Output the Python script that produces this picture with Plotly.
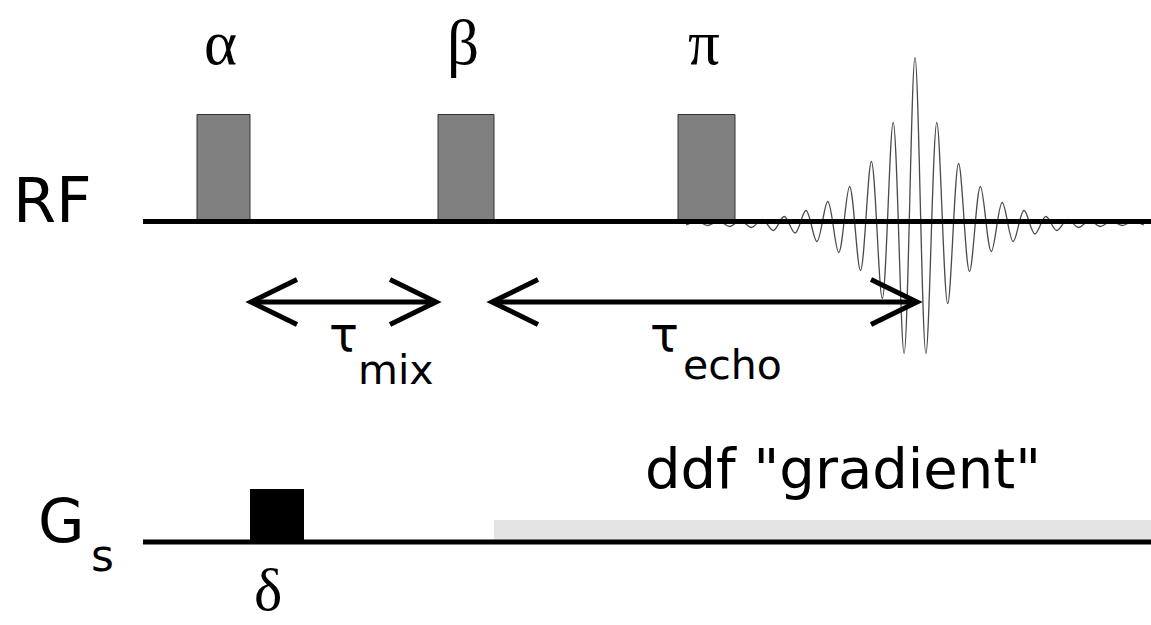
import plotly.graph_objects as go

# ---- sequence timing (time axis in arbitrary units, 0..1151) ----
rf_labels = ["α", "β", "π"]
rf_start = [197, 438, 678]
rf_end = [250, 494, 735]
rf_amp = 107

# echo: extrema read at successive half periods around the echo top
echo_center = 915
echo_half_period = 10.9
echo_left = [-3.5, 0, -4, 0.5, -5, 1, -6, 2, -9, 5, -11.5, 11, -20, 20, -31, 35,
             -49, 60, -77, 99, -132]
echo_right = [164, -132, 99, -82, 58, -50, 35, -30, 19, -20, 11, -12.5, 5, -9,
              2, -6, 1, -5, 0.5, -4, 0, -3.5]

# delay intervals (arrows)
tau_mix = (251, 436)
tau_echo = (492, 917)

# gradient channel
delta_start, delta_end, delta_amp = 250, 304, 53
ddf_start, ddf_end, ddf_amp = 494, 1151, 22

# ---- channel rows (vertical positions of baselines) ----
rf_base = 221.5
gs_base = 542
arrow_row = 302
line_start, line_end = 143, 1151

fig = go.Figure()

# echo signal
echo_amp = echo_left + echo_right
n_left = len(echo_left)
echo_t = [echo_center + (i - n_left) * echo_half_period for i in range(len(echo_amp))]
fig.add_trace(go.Scatter(
    x=echo_t, y=[rf_base - a for a in echo_amp], mode="lines",
    line=dict(color="#4a4a4a", width=1.3, shape="spline", smoothing=1.0),
    hoverinfo="skip", showlegend=False))

shapes = []
# RF pulses
for s, e in zip(rf_start, rf_end):
    shapes.append(dict(type="rect", x0=s, x1=e, y0=rf_base, y1=rf_base - rf_amp,
                       fillcolor="#808080", line=dict(color="#333333", width=1),
                       layer="above"))
# gradient pulses
shapes.append(dict(type="rect", x0=ddf_start, x1=ddf_end, y0=gs_base, y1=gs_base - ddf_amp,
                   fillcolor="#e4e4e4", line=dict(width=0), layer="above"))
shapes.append(dict(type="rect", x0=delta_start, x1=delta_end, y0=gs_base,
                   y1=gs_base - delta_amp, fillcolor="#000000", line=dict(width=0),
                   layer="above"))
# baselines
for yb in (rf_base, gs_base):
    shapes.append(dict(type="line", x0=line_start, x1=line_end, y0=yb, y1=yb,
                       line=dict(color="black", width=5), layer="above"))

# double-headed arrows with open chevron heads
head_len, head_half = 46, 22.5
for a, b in (tau_mix, tau_echo):
    shapes.append(dict(type="line", x0=a, x1=b, y0=arrow_row, y1=arrow_row,
                       line=dict(color="black", width=5), layer="above"))
    for tip, d in ((a, 1), (b, -1)):
        path = (f"M {tip + d * head_len},{arrow_row - head_half} L {tip},{arrow_row} "
                f"L {tip + d * head_len},{arrow_row + head_half}")
        shapes.append(dict(type="path", path=path, line=dict(color="black", width=5),
                           layer="above"))

ann = []


def label(text, x, y, size, family="DejaVu Sans"):
    ann.append(dict(text=text, x=x, y=y, xref="x", yref="y", showarrow=False,
                    xanchor="center", yanchor="middle",
                    font=dict(family=family, size=size, color="black")))


serif = "Liberation Serif"
for lab, s, e in zip(rf_labels, rf_start, rf_end):
    label(lab, (s + e) / 2 - 3, 43, 63, serif)
label("δ", (delta_start + delta_end) / 2 - 9, 590, 60, serif)

label("RF", 52, 200, 62)
label("G", 61, 521, 60)
label("s", 102, 555, 44)

label("τ", 343, 334, 48)
label("mix", 396, 370, 41)
label("τ", 664, 334, 48)
label("echo", 732, 365, 41)

label('ddf "gradient"', 843, 468, 56)

fig.update_layout(
    width=1151, height=625, margin=dict(l=0, r=0, t=0, b=0),
    paper_bgcolor="white", plot_bgcolor="white",
    xaxis=dict(range=[0, 1151], visible=False, fixedrange=True),
    yaxis=dict(range=[625, 0], visible=False, fixedrange=True),
    shapes=shapes, annotations=ann, showlegend=False,
)

fig.write_html("out.html", config={"displayModeBar": False})
